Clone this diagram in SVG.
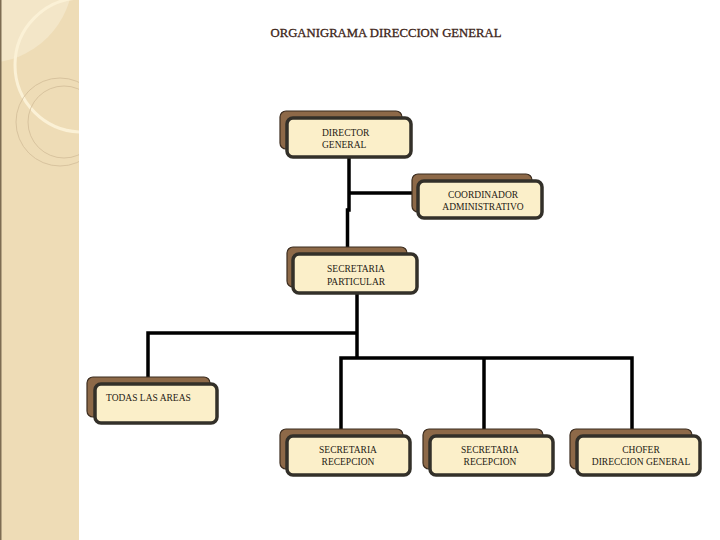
<svg xmlns="http://www.w3.org/2000/svg" width="720" height="540" viewBox="0 0 720 540">
<defs>
<style>
.sh{fill:#8d6948;stroke:#3b2c1e;stroke-width:1.2}
.bx{fill:#fbefc9;stroke:#333029;stroke-width:3.5}
.t{font-family:"Liberation Serif","DejaVu Serif",serif;font-size:9.5px;fill:#1e1a14}
.c{stroke:#000;stroke-width:3.5;fill:none}
</style>
<clipPath id="side"><rect x="0" y="0" width="79" height="540"/></clipPath>
</defs>
<rect width="720" height="540" fill="#fff"/>
<g id="sidebar" clip-path="url(#side)">
<rect x="0" y="0" width="79" height="540" fill="#eedcb6"/>
<circle cx="-14" cy="-24" r="87" fill="#f3e6c8"/>
<circle cx="82" cy="65" r="67" fill="none" stroke="#fbf1d6" stroke-width="3"/>
<circle cx="60" cy="122" r="44" fill="none" stroke="#d2bc98" stroke-width="0.8"/>
<circle cx="64" cy="122" r="36" fill="none" stroke="#d2bc98" stroke-width="0.8"/>
<rect x="0" y="0" width="1.5" height="540" fill="#7d6c52"/>
</g>
<text x="386" y="37" text-anchor="middle" font-family="'Liberation Serif','DejaVu Serif',serif" font-size="12.5" fill="#3c2418" stroke="#3c2418" stroke-width="0.3" textLength="231" lengthAdjust="spacingAndGlyphs">ORGANIGRAMA DIRECCION GENERAL</text>
<g id="connectors">
<polyline class="c" points="349,157 349,210 347.5,210 347.5,252"/>
<line class="c" x1="348" y1="193" x2="418" y2="193"/>
<line class="c" x1="357" y1="293" x2="357" y2="358"/>
<polyline class="c" points="357,333 148,333 148,380"/>
<polyline class="c" points="341,431 341,358 632,358 632,431"/>
<line class="c" x1="484" y1="358" x2="484" y2="431"/>
</g>
<g id="director">
<rect class="sh" x="280" y="111" width="122" height="38" rx="6"/>
<rect class="bx" x="287" y="118" width="124" height="39" rx="6"/>
<text class="t" x="322" y="136">DIRECTOR</text>
<text class="t" x="322" y="148">GENERAL</text>
</g>
<g id="coordinador">
<rect class="sh" x="412" y="174" width="120" height="38" rx="6"/>
<rect class="bx" x="418" y="181" width="124" height="37" rx="6"/>
<text class="t" x="483" y="198" text-anchor="middle">COORDINADOR</text>
<text class="t" x="483" y="210" text-anchor="middle">ADMINISTRATIVO</text>
</g>
<g id="secretaria-particular">
<rect class="sh" x="287" y="247" width="120" height="40" rx="6"/>
<rect class="bx" x="293" y="254" width="124" height="39" rx="6"/>
<text class="t" x="356" y="272" text-anchor="middle">SECRETARIA</text>
<text class="t" x="356" y="285" text-anchor="middle">PARTICULAR</text>
</g>
<g id="todas-las-areas">
<rect class="sh" x="87" y="377" width="123" height="40" rx="6"/>
<rect class="bx" x="95" y="384" width="122" height="39" rx="6"/>
<text class="t" x="106" y="401">TODAS LAS AREAS</text>
</g>
<g id="secretaria-recepcion-1">
<rect class="sh" x="280" y="429" width="123" height="40" rx="6"/>
<rect class="bx" x="287" y="436" width="123" height="39" rx="6"/>
<text class="t" x="348" y="453" text-anchor="middle">SECRETARIA</text>
<text class="t" x="348" y="465" text-anchor="middle">RECEPCION</text>
</g>
<g id="secretaria-recepcion-2">
<rect class="sh" x="423" y="429" width="120" height="40" rx="6"/>
<rect class="bx" x="430" y="436" width="123" height="39" rx="6"/>
<text class="t" x="490" y="453" text-anchor="middle">SECRETARIA</text>
<text class="t" x="490" y="465" text-anchor="middle">RECEPCION</text>
</g>
<g id="chofer">
<rect class="sh" x="570" y="429" width="122" height="40" rx="6"/>
<rect class="bx" x="577" y="436" width="123" height="39" rx="6"/>
<text class="t" x="641" y="453" text-anchor="middle">CHOFER</text>
<text class="t" x="641" y="465" text-anchor="middle">DIRECCION GENERAL</text>
</g>
</svg>
